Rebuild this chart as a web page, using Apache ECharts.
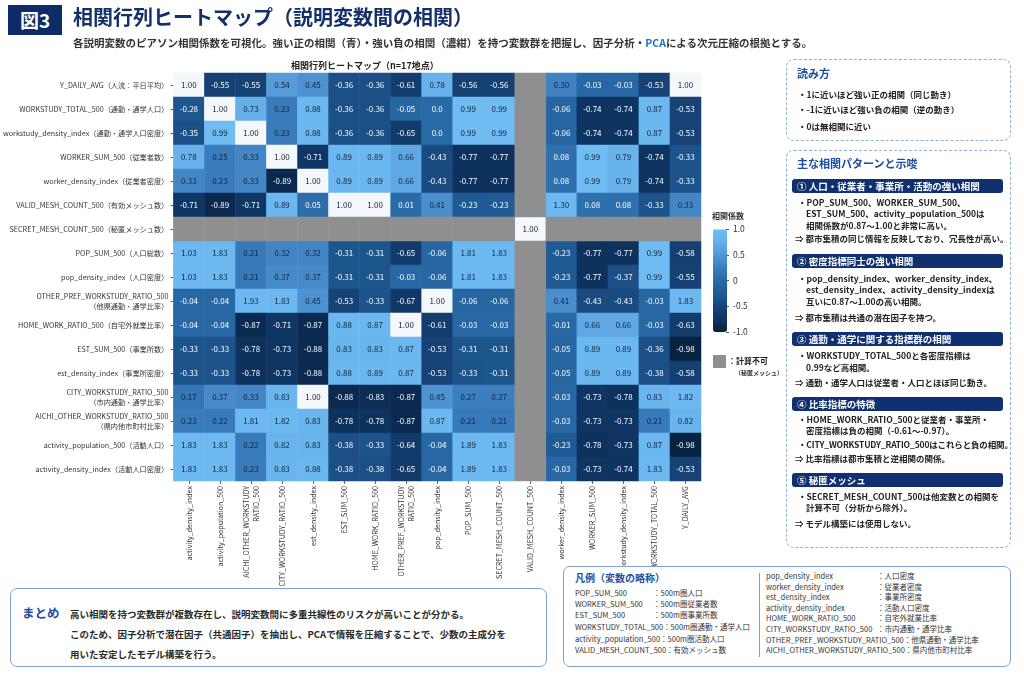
<!DOCTYPE html>
<html lang="ja">
<head>
<meta charset="utf-8">
<title>相関行列ヒートマップ</title>
<script src="https://cdn.jsdelivr.net/npm/echarts@6/dist/echarts.min.js"></script>
<style>
  body { margin: 0; background: #fff; font-family: 'Noto Sans CJK JP', 'Noto Sans', sans-serif; }
  #page { position: relative; width: 1024px; height: 682px; overflow: hidden; background: #fff; }
  #chart { position: absolute; left: 0; top: 0; width: 1024px; height: 682px; }
  .abs { position: absolute; white-space: nowrap; line-height: 1; }
  .box-dash { position: absolute; box-sizing: border-box; border: 1.5px dashed #8fb0df; border-radius: 8px; background: #fff; }
  .box-solid { position: absolute; box-sizing: border-box; border: 1.5px solid #7da1d8; border-radius: 7px; background: #fff; }
  .ptitle { position: absolute; font-size: 11px; font-weight: bold; color: #1d4ea3; white-space: nowrap; line-height: 13px; }
  .hd { position: absolute; left: 792px; width: 211px; height: 14px; box-sizing: border-box; padding-left: 5px;
        background: #10306f; border-radius: 3px; color: #fff; font-size: 9.5px; font-weight: bold; line-height: 14px; white-space: nowrap; }
  .ln { position: absolute; font-size: 8.5px; font-weight: bold; color: #222; white-space: nowrap; line-height: 11px; }
  .lg { position: absolute; font-size: 7.5px; color: #333; white-space: nowrap; line-height: 10px; }
  .lg span { display: inline-block; }
</style>
</head>
<body>
<div id="page">
  <div id="chart"></div>

  <!-- header -->
  <div class="abs" style="left:8px;top:5px;width:54px;height:30px;background:#0d2b66;color:#fff;font-size:19px;font-weight:bold;line-height:30px;text-align:center;">図3</div>
  <div class="abs" style="left:73px;top:7px;font-size:20px;font-weight:bold;color:#14306a;">相関行列ヒートマップ（説明変数間の相関）</div>
  <div class="abs" style="left:73px;top:38px;font-size:10.5px;font-weight:bold;color:#333;">各説明変数のピアソン相関係数を可視化。強い正の相関（青）・強い負の相関（濃紺）を持つ変数群を把握し、因子分析・<span style="color:#1f6fd0">PCA</span>による次元圧縮の根拠とする。</div>

  <!-- colour bar captions -->
  <div class="abs" style="left:712px;top:212px;font-size:8px;font-weight:bold;color:#333;">相関係数</div>
  <div class="abs" style="left:713px;top:355px;width:13px;height:13px;background:#8f8f8f;"></div>
  <div class="abs" style="left:728px;top:357px;font-size:8px;font-weight:bold;color:#222;">：計算不可</div>
  <div class="abs" style="left:735px;top:370px;font-size:6px;font-weight:bold;color:#333;">（秘匿メッシュ）</div>

  <!-- 読み方 -->
  <div class="box-dash" style="left:786px;top:59px;width:225px;height:82px;"></div>
  <div class="ptitle" style="left:797px;top:66.5px;">読み方</div>
  <div class="ln" style="left:798px;top:88.5px;">・1に近いほど強い正の相関（同じ動き）</div>
  <div class="ln" style="left:798px;top:103.5px;">・-1に近いほど強い負の相関（逆の動き）</div>
  <div class="ln" style="left:798px;top:120.5px;">・0は無相関に近い</div>

  <!-- 主な相関パターンと示唆 -->
  <div class="box-dash" style="left:786px;top:150px;width:225px;height:398px;"></div>
  <div class="ptitle" style="left:797px;top:156.5px;">主な相関パターンと示唆</div>

  <div class="hd" style="top:179px;">① 人口・従業者・事業所・活動の強い相関</div>
  <div class="ln" style="left:798px;top:196.5px;">・POP_SUM_500、WORKER_SUM_500、</div>
  <div class="ln" style="left:806px;top:207.5px;">EST_SUM_500、activity_population_500は</div>
  <div class="ln" style="left:806px;top:219.5px;">相関係数が0.87～1.00と非常に高い。</div>
  <div class="ln" style="left:795px;top:232.5px;">⇒ 都市集積の同じ情報を反映しており、冗長性が高い。</div>

  <div class="hd" style="top:254px;">② 密度指標同士の強い相関</div>
  <div class="ln" style="left:798px;top:272.5px;">・pop_density_index、worker_density_index、</div>
  <div class="ln" style="left:806px;top:283.5px;">est_density_index、activity_density_indexは</div>
  <div class="ln" style="left:806px;top:295.5px;">互いに0.87～1.00の高い相関。</div>
  <div class="ln" style="left:795px;top:311.5px;">⇒ 都市集積は共通の潜在因子を持つ。</div>

  <div class="hd" style="top:332px;">③ 通勤・通学に関する指標群の相関</div>
  <div class="ln" style="left:798px;top:349.5px;">・WORKSTUDY_TOTAL_500と各密度指標は</div>
  <div class="ln" style="left:806px;top:361.5px;">0.99など高相関。</div>
  <div class="ln" style="left:795px;top:376.5px;">⇒ 通勤・通学人口は従業者・人口とほぼ同じ動き。</div>

  <div class="hd" style="top:397px;">④ 比率指標の特徴</div>
  <div class="ln" style="left:798px;top:413.5px;">・HOME_WORK_RATIO_500と従業者・事業所・</div>
  <div class="ln" style="left:806px;top:424.5px;">密度指標は負の相関（-0.61～-0.97）。</div>
  <div class="ln" style="left:798px;top:438.5px;letter-spacing:-0.15px;">・CITY_WORKSTUDY_RATIO_500はこれらと負の相関。</div>
  <div class="ln" style="left:795px;top:452.5px;">⇒ 比率指標は都市集積と逆相関の関係。</div>

  <div class="hd" style="top:473px;">⑤ 秘匿メッシュ</div>
  <div class="ln" style="left:798px;top:490.5px;">・SECRET_MESH_COUNT_500は他変数との相関を</div>
  <div class="ln" style="left:806px;top:501.5px;">計算不可（分析から除外）。</div>
  <div class="ln" style="left:795px;top:517.5px;">⇒ モデル構築には使用しない。</div>

  <!-- まとめ -->
  <div class="box-solid" style="left:10px;top:588px;width:537px;height:79px;"></div>
  <div class="abs" style="left:22px;top:607px;font-size:12.5px;font-weight:bold;color:#1f4fa3;">まとめ</div>
  <div class="abs" style="left:70px;top:610px;font-size:9.5px;font-weight:bold;color:#2a2a2a;">高い相関を持つ変数群が複数存在し、説明変数間に多重共線性のリスクが高いことが分かる。</div>
  <div class="abs" style="left:70px;top:630px;font-size:9.5px;font-weight:bold;color:#2a2a2a;">このため、因子分析で潜在因子（共通因子）を抽出し、PCAで情報を圧縮することで、少数の主成分を</div>
  <div class="abs" style="left:70px;top:650px;font-size:9.5px;font-weight:bold;color:#2a2a2a;">用いた安定したモデル構築を行う。</div>

  <!-- 凡例（変数の略称） -->
  <div class="box-solid" style="left:563px;top:566px;width:448px;height:101px;"></div>
  <div class="abs" style="left:575px;top:573px;font-size:10px;font-weight:bold;color:#1f4fa3;">凡例（変数の略称）</div>
  <div class="lg" style="left:575px;top:588px;"><span style="min-width:78px">POP_SUM_500</span>：500m圏人口</div>
  <div class="lg" style="left:575px;top:599px;"><span style="min-width:78px">WORKER_SUM_500</span>：500m圏従業者数</div>
  <div class="lg" style="left:575px;top:610px;"><span style="min-width:78px">EST_SUM_500</span>：500m圏事業所数</div>
  <div class="lg" style="left:575px;top:622px;"><span style="min-width:78px">WORKSTUDY_TOTAL_500</span>：500m圏通勤・通学人口</div>
  <div class="lg" style="left:575px;top:634px;"><span style="min-width:78px">activity_population_500</span>：500m圏活動人口</div>
  <div class="lg" style="left:575px;top:645px;"><span style="min-width:78px">VALID_MESH_COUNT_500</span>：有効メッシュ数</div>
  <div class="abs" style="left:759px;top:573px;width:1px;height:84px;background:#9a9a9a;"></div>
  <div class="lg" style="left:766px;top:571px;"><span style="min-width:111px">pop_density_index</span>：人口密度</div>
  <div class="lg" style="left:766px;top:582px;"><span style="min-width:111px">worker_density_index</span>：従業者密度</div>
  <div class="lg" style="left:766px;top:592px;"><span style="min-width:111px">est_density_index</span>：事業所密度</div>
  <div class="lg" style="left:766px;top:603px;"><span style="min-width:111px">activity_density_index</span>：活動人口密度</div>
  <div class="lg" style="left:766px;top:613px;"><span style="min-width:111px">HOME_WORK_RATIO_500</span>：自宅外就業比率</div>
  <div class="lg" style="left:766px;top:624px;"><span style="min-width:111px">CITY_WORKSTUDY_RATIO_500</span>：市内通勤・通学比率</div>
  <div class="lg" style="left:766px;top:635px;"><span style="min-width:111px">OTHER_PREF_WORKSTUDY_RATIO_500</span>：他県通勤・通学比率</div>
  <div class="lg" style="left:766px;top:645px;"><span style="min-width:111px">AICHI_OTHER_WORKSTUDY_RATIO_500 </span>：県内他市町村比率</div>
</div>

<script>
// column variables (left -> right)
const xLabels = [
  'activity_density_index', 'activity_population_500', 'AICHI_OTHER_WORKSTUDY\nRATIO_500',
  'CITY_WORKSTUDY_RATIO_500', 'est_density_index', 'EST_SUM_500', 'HOME_WORK_RATIO_500',
  'OTHER_PREF_WORKSTUDY\nRATIO_500', 'pop_density_index', 'POP_SUM_500', 'SECRET_MESH_COUNT_500',
  'VALID_MESH_COUNT_500', 'worker_density_index', 'WORKER_SUM_500', 'workstudy_density_index',
  'WORKSTUDY_TOTAL_500', 'Y_DAILY_AVG'
]

// row variables (top -> bottom)
const yLabels = [
  'Y_DAILY_AVG（人流：平日平均）',
  'WORKSTUDY_TOTAL_500（通勤・通学人口）',
  'workstudy_density_index（通勤・通学人口密度）',
  'WORKER_SUM_500（従業者数）',
  'worker_density_index（従業者密度）',
  'VALID_MESH_COUNT_500（有効メッシュ数）',
  'SECRET_MESH_COUNT_500（秘匿メッシュ数）',
  'POP_SUM_500（人口総数）',
  'pop_density_index（人口密度）',
  'OTHER_PREF_WORKSTUDY_RATIO_500\n（他県通勤・通学比率）',
  'HOME_WORK_RATIO_500（自宅外就業比率）',
  'EST_SUM_500（事業所数）',
  'est_density_index（事業所密度）',
  'CITY_WORKSTUDY_RATIO_500\n（市内通勤・通学比率）',
  'AICHI_OTHER_WORKSTUDY_RATIO_500\n（県内他市町村比率）',
  'activity_population_500（活動人口）',
  'activity_density_index（活動人口密度）'
]

// correlation values per row, null = not computable (grey)
const rowYDaily      = [1.00, -0.55, -0.55, 0.54, 0.45, -0.36, -0.36, -0.61, 0.78, -0.56, -0.56, null, 0.30, -0.03, -0.03, -0.53, 1.00]
const rowWorkTotal   = [-0.28, 1.00, 0.73, 0.23, 0.88, -0.36, -0.36, -0.05, 0.0, 0.99, 0.99, null, -0.06, -0.74, -0.74, 0.87, -0.53]
const rowWorkDens    = [-0.35, 0.99, 1.00, 0.23, 0.88, -0.36, -0.36, -0.65, 0.0, 0.99, 0.99, null, -0.06, -0.74, -0.74, 0.87, -0.53]
const rowWorkerSum   = [0.78, 0.25, 0.33, 1.00, -0.71, 0.89, 0.89, 0.66, -0.43, -0.77, -0.77, null, 0.08, 0.99, 0.79, -0.74, -0.33]
const rowWorkerDens  = [0.33, 0.23, 0.33, -0.89, 1.00, 0.89, 0.89, 0.66, -0.43, -0.77, -0.77, null, 0.08, 0.99, 0.79, -0.74, -0.33]
const rowValidMesh   = [-0.71, -0.89, -0.71, 0.89, 0.05, 1.00, 1.00, 0.01, 0.41, -0.23, -0.23, null, 1.30, 0.08, 0.08, -0.33, 0.33]
const rowSecretMesh  = [null, null, null, null, null, null, null, null, null, null, null, 1.00, null, null, null, null, null]
const rowPopSum      = [1.03, 1.83, 0.21, 0.32, 0.32, -0.31, -0.31, -0.65, -0.06, 1.81, 1.83, null, -0.23, -0.77, -0.77, 0.99, -0.58]
const rowPopDens     = [1.03, 1.83, 0.21, 0.37, 0.37, -0.31, -0.31, -0.03, -0.06, 1.81, 1.83, null, -0.23, -0.77, -0.37, 0.99, -0.55]
const rowOtherPref   = [-0.04, -0.04, 1.93, 1.83, 0.45, -0.53, -0.33, -0.67, 1.00, -0.06, -0.06, null, 0.41, -0.43, -0.43, -0.03, 1.83]
const rowHomeWork    = [-0.04, -0.04, -0.87, -0.71, -0.87, 0.88, 0.87, 1.00, -0.61, -0.03, -0.03, null, -0.01, 0.66, 0.66, -0.03, -0.63]
const rowEstSum      = [-0.33, -0.33, -0.78, -0.73, -0.88, 0.83, 0.83, 0.87, -0.53, -0.31, -0.31, null, -0.05, 0.89, 0.89, -0.36, -0.98]
const rowEstDens     = [-0.33, -0.33, -0.78, -0.73, -0.88, 0.88, 0.89, 0.87, -0.53, -0.33, -0.31, null, -0.05, 0.89, 0.89, -0.38, -0.58]
const rowCity        = [0.17, 0.37, 0.33, 0.83, 1.00, -0.88, -0.83, -0.87, 0.45, 0.27, 0.27, null, -0.03, -0.73, -0.78, 0.83, 1.82]
const rowAichi       = [0.23, 0.22, 1.81, 1.82, 0.83, -0.78, -0.78, -0.87, 0.87, 0.21, 0.21, null, -0.03, -0.73, -0.73, 0.21, 0.82]
const rowActPop      = [1.83, 1.83, 0.22, 0.82, 0.83, -0.38, -0.33, -0.64, -0.04, 1.89, 1.83, null, -0.23, -0.78, -0.73, 0.87, -0.98]
const rowActDens     = [1.83, 1.83, 0.23, 0.83, 0.88, -0.38, -0.38, -0.65, -0.04, 1.89, 1.83, null, -0.03, -0.73, -0.74, 1.83, -0.53]

const rows = [rowYDaily, rowWorkTotal, rowWorkDens, rowWorkerSum, rowWorkerDens, rowValidMesh, rowSecretMesh,
  rowPopSum, rowPopDens, rowOtherPref, rowHomeWork, rowEstSum, rowEstDens, rowCity, rowAichi, rowActPop, rowActDens]

// colour bar ticks
const barTicks = [-1, -0.5, 0, 0.5, 1]

const FONT = "'Noto Sans CJK JP', 'Noto Sans', sans-serif"

// blue ramp: navy at -1, sky blue near +1, white exactly at 1; printed values above 1 stay sky blue
const rampStops = [
  [-1, '#08203f'], [-0.75, '#0e3461'], [-0.5, '#174478'], [-0.25, '#1f5a93'], [0, '#286aa6'],
  [0.25, '#3a7dbd'], [0.5, '#5298d6'], [0.75, '#66b1eb'], [0.99, '#6fbcf2'], [1, '#f4f8fd'],
  [1.01, '#6cb9f1'], [2, '#6cb9f1']
]
function hexToRgb(h) {
  return [parseInt(h.slice(1, 3), 16), parseInt(h.slice(3, 5), 16), parseInt(h.slice(5, 7), 16)]
}
function rampColor(v) {
  for (let i = 1; i < rampStops.length; i++) {
    const [v1, c1] = rampStops[i]
    const [v0, c0] = rampStops[i - 1]
    if (v <= v1 + 1e-9) {
      const t = Math.max(0, Math.min(1, (v - v0) / (v1 - v0)))
      const a = hexToRgb(c0), b = hexToRgb(c1)
      return 'rgb(' + a.map((x, k) => Math.round(x + (b[k] - x) * t)).join(',') + ')'
    }
  }
  return rampStops[rampStops.length - 1][1]
}
// cells: -1 .. 2 in 0.01 steps; colour bar: -1 .. 1
const cellPalette = [], barPalette = []
for (let i = 0; i <= 300; i++) cellPalette.push(rampColor(-1 + i / 100))
for (let i = 0; i <= 200; i++) barPalette.push(rampColor(-1 + i / 100))

const cells = [], masked = []
rows.forEach((r, i) => r.forEach((v, j) => {
  if (v === null) {
    masked.push([j, i, 0])
  } else {
    cells.push({ value: [j, i, v], label: { color: v >= 0.15 ? '#172233' : '#ffffff' } })
  }
}))

const chart = echarts.init(document.getElementById('chart'))
chart.setOption({
  animation: false,
  textStyle: { fontFamily: FONT },
  title: {
    text: '相関行列ヒートマップ（n=17地点）',
    left: 286,
    top: 56,
    textStyle: { fontSize: 9, fontWeight: 'bold', color: '#222', fontFamily: FONT }
  },
  grid: [
    { left: 163, top: 73, width: 538, height: 408 },
    { left: 726, top: 229, width: 1, height: 103 }
  ],
  xAxis: [{
    type: 'category',
    gridIndex: 0,
    data: xLabels,
    splitArea: { show: false },
    axisLine: { show: false },
    axisTick: { show: true, length: 3, alignWithLabel: true, lineStyle: { color: '#666' } },
    axisLabel: { rotate: 90, interval: 0, fontSize: 7.1, color: '#333', margin: 5, lineHeight: 10, fontFamily: FONT }
  }, {
    type: 'value', gridIndex: 1, show: false
  }],
  yAxis: [{
    type: 'category',
    gridIndex: 0,
    inverse: true,
    data: yLabels,
    splitArea: { show: false },
    axisLine: { show: false },
    axisTick: { show: true, length: 3, alignWithLabel: true, lineStyle: { color: '#666' } },
    axisLabel: { interval: 0, fontSize: 7.2, color: '#333', margin: 5, lineHeight: 10, fontFamily: FONT }
  }, {
    type: 'value',
    gridIndex: 1,
    position: 'right',
    min: barTicks[0],
    max: barTicks[barTicks.length - 1],
    interval: 0.5,
    splitLine: { show: false },
    axisLine: { show: false },
    axisTick: { show: true, length: 3, lineStyle: { color: '#555' } },
    axisLabel: {
      margin: 6, fontSize: 8.5, color: '#333', fontFamily: FONT,
      formatter: v => v === 0 ? '0' : v.toFixed(1)
    }
  }],
  visualMap: [{
    // colours the cells
    type: 'continuous',
    show: false,
    seriesIndex: 0,
    dimension: 2,
    min: -1,
    max: 2,
    inRange: { color: cellPalette }
  }, {
    // visible colour bar
    type: 'continuous',
    seriesIndex: [],
    min: -1,
    max: 1,
    calculable: false,
    orient: 'vertical',
    left: 713,
    top: 229,
    padding: 0,
    itemWidth: 14,
    itemHeight: 103,
    inRange: { color: barPalette }
  }],
  series: [{
    name: '相関係数',
    type: 'heatmap',
    xAxisIndex: 0,
    yAxisIndex: 0,
    data: cells,
    label: {
      show: true,
      fontSize: 8,
      fontFamily: FONT,
      formatter: p => p.value[2] === 0 ? '0.0' : p.value[2].toFixed(2)
    },
    emphasis: { disabled: true }
  }, {
    name: '計算不可',
    type: 'heatmap',
    xAxisIndex: 0,
    yAxisIndex: 0,
    data: masked,
    itemStyle: { color: '#8f8f8f' },
    label: { show: false },
    emphasis: { disabled: true }
  }]
})
</script>
</body>
</html>
